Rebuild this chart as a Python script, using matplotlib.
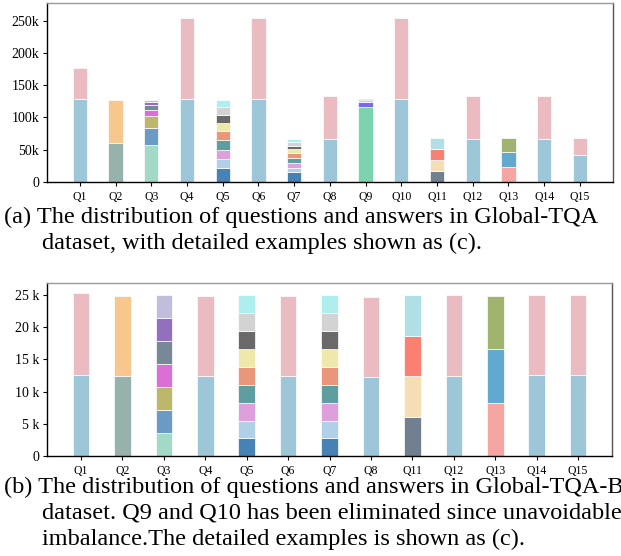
import matplotlib
matplotlib.use("Agg")
import matplotlib.pyplot as plt
from matplotlib.ticker import FuncFormatter

plt.rcParams['font.family'] = ['Liberation Serif', 'DejaVu Serif']

#____________________________________________________________________________________________________
# data (values in thousands)
top_labels = ['Q1', 'Q2', 'Q3', 'Q4', 'Q5', 'Q6', 'Q7', 'Q8', 'Q9', 'Q10', 'Q11', 'Q12', 'Q13', 'Q14', 'Q15']
top_values = [
    [128, 48],
    [61, 66],
    [57, 27, 18.5, 8.8, 7.7, 4.8, 3.6],
    [128, 127],
    [20.8, 14.4, 14.5, 14.5, 14.0, 12.4, 12.4, 12.5, 11.9],
    [128, 127],
    [14.6, 7.2, 7.7, 7.8, 7.7, 5.3, 5.6, 5.7, 4.7],
    [66.3, 66.7],
    [116.5, 7.5, 3.0, 1.4],
    [128, 127],
    [17, 16.7, 16.6, 17.1],
    [66.8, 66.2],
    [23.3, 22.3, 21.8],
    [66.8, 66.2],
    [41, 26.4],
]

bottom_labels = ['Q1', 'Q2', 'Q3', 'Q4', 'Q5', 'Q6', 'Q7', 'Q8', 'Q11', 'Q12', 'Q13', 'Q14', 'Q15']
bottom_values = [
    [12.6, 12.7],
    [12.5, 12.4],
    [3.6, 3.5, 3.6, 3.6, 3.6, 3.5, 3.6],
    [12.5, 12.4],
    [2.75, 2.75, 2.8, 2.8, 2.7, 2.8, 2.9, 2.8, 2.7],
    [12.5, 12.4],
    [2.75, 2.75, 2.8, 2.8, 2.7, 2.8, 2.9, 2.8, 2.7],
    [12.2, 12.6],
    [6.1, 6.3, 6.3, 6.3],
    [12.4, 12.6],
    [8.2, 8.4, 8.3],
    [12.6, 12.5],
    [12.6, 12.5],
]

# colour sets per question type
c_pair = ['#9DC6D8', '#EBBBC2']
c_q2 = ['#97B1AC', '#F8C78E']
c_q3 = ['#A3D9C7', '#6B9AC4', '#BDB76B', '#DA70D6', '#778899', '#9370BE', '#C0BDDD']
c_q5 = ['#4682B4', '#B0D0E8', '#DDA0DD', '#5F9EA0', '#E9967A', '#EEE8AA', '#696969', '#D3D3D3', '#AFEEEE']
c_q9 = ['#7BD3B0', '#7B68EE', '#ADD8E6', '#708090']
c_q11 = ['#708090', '#F5DEB3', '#FA8072', '#B0E0E6']
c_q13 = ['#F6A6A2', '#62A9D0', '#A1B46F']

colour_map = {'Q2': c_q2, 'Q3': c_q3, 'Q5': c_q5, 'Q7': c_q5, 'Q9': c_q9, 'Q11': c_q11, 'Q13': c_q13}

caption_a = ["(a) The distribution of questions and answers in Global-TQA",
             "dataset, with detailed examples shown as (c)."]
caption_b = ["(b) The distribution of questions and answers in Global-TQA-B",
             "dataset. Q9 and Q10 has been eliminated since unavoidable",
             "imbalance.The detailed examples is shown as (c)."]


#____________________________________________________________________________________________________
# functions
def stacked(ax, labels, values):
    for i, (lab, segs) in enumerate(zip(labels, values)):
        cols = colour_map.get(lab, c_pair)
        bottom = 0
        for v, c in zip(segs, cols):
            ax.bar(i, v * 1000, 0.4, bottom=bottom, color=c, edgecolor='white', linewidth=0.5)
            bottom += v * 1000
    ax.set_xticks(range(len(labels)))
    ax.set_xticklabels(labels, fontsize=8.5)
    ax.tick_params(axis='y', labelsize=10, length=3, width=0.8, pad=2.5)
    ax.tick_params(axis='x', length=3, width=0.8)
    ax.spines['top'].set_color('#9a9a9a')
    ax.spines['right'].set_color('#555555')
    for s in ax.spines.values():
        s.set_linewidth(1.0)


def main():
    fig = plt.figure(figsize=(6.21, 5.56), dpi=100)

    ax1 = fig.add_axes([0.0757, 0.673, 0.911, 0.321])
    stacked(ax1, top_labels, top_values)
    ax1.set_ylim(0, 277000)
    ax1.set_yticks([0, 50000, 100000, 150000, 200000, 250000])
    ax1.yaxis.set_major_formatter(FuncFormatter(lambda x, p: '0' if x == 0 else '%dk' % (x / 1000)))

    ax2 = fig.add_axes([0.0757, 0.18, 0.91, 0.311])
    stacked(ax2, bottom_labels, bottom_values)
    ax2.set_ylim(0, 26900)
    ax2.set_yticks([0, 5000, 10000, 15000, 20000, 25000])
    ax2.yaxis.set_major_formatter(FuncFormatter(lambda x, p: '0' if x == 0 else '%d k' % (x / 1000)))

    # captions (the reference cuts the longest lines at the right edge too)
    fs = 17.5
    fig.text(4 / 621, 1 - 217 / 556, caption_a[0], fontsize=fs, va='center', ha='left')
    fig.text(42 / 621, 1 - 243 / 556, caption_a[1], fontsize=fs, va='center', ha='left')
    fig.text(4 / 621, 1 - 487 / 556, caption_b[0], fontsize=fs, va='center', ha='left')
    fig.text(42 / 621, 1 - 513 / 556, caption_b[1], fontsize=fs, va='center', ha='left')
    fig.text(42 / 621, 1 - 539 / 556, caption_b[2], fontsize=fs, va='center', ha='left')

    fig.savefig('out.png', dpi=100)


if __name__ == "__main__":
    main()
